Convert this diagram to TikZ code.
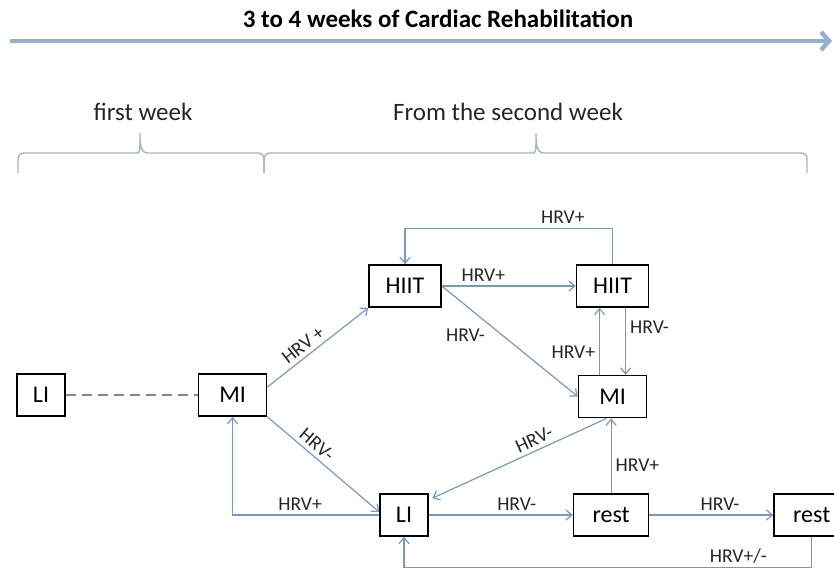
\documentclass[tikz,border=0pt]{standalone}
\usepackage{fontspec}
\setmainfont{Carlito}
\usetikzlibrary{positioning,arrows.meta}
\definecolor{linkblue}{RGB}{122,152,190}
\definecolor{barblue}{RGB}{148,176,208}
\definecolor{braceblue}{RGB}{160,180,202}
\definecolor{dashgray}{RGB}{120,136,160}
\tikzset{box/.style={draw,thick,minimum height=21pt,inner sep=2pt,font=\fontsize{12}{14}\selectfont},
  link/.style={draw=linkblue,line width=0.6pt,-{Straight Barb[length=3pt,width=5pt]}},
  lab/.style={font=\fontsize{9.8}{11}\selectfont,text=black!85,inner sep=2pt},
  brace/.style={draw=braceblue,line width=0.7pt},
  week/.style={font=\fontsize{12.5}{15}\selectfont,text=black!85}}

\begin{document}
\begin{tikzpicture}[x=0.5pt,y=-0.5pt]
\useasboundingbox (0,0) rectangle (834,571);
\clip (0,0) rectangle (834,571);

% time line
\node[font=\fontsize{12.5}{15}\selectfont\bfseries] (title) at (438,19) {3 to 4 weeks of Cardiac Rehabilitation};
\coordinate (tstart) at (10,41);
\coordinate (tend) at (832,41);
\draw[barblue,line width=2.2pt,-{Straight Barb[length=4pt,width=9pt]}] (tstart) -- (tend);

% weeks
\node[week] (week1) at (143,112) {first week};
\node[week] (week2) at (508,112) {From the second week};
\draw[brace] (18,173) [rounded corners=3pt] -- (18,153) -- (132,153) [sharp corners] to[out=0,in=-90] (140,133)
    to[out=-90,in=180] (148,153) [rounded corners=3pt] -- (264,153) -- (264,173);
\draw[brace] (264,173) [rounded corners=3pt] -- (264,153) -- (528,153) [sharp corners] to[out=0,in=-90] (536,133)
    to[out=-90,in=180] (544,153) [rounded corners=3pt] -- (807,153) -- (807,173);

\node[box,
    minimum width=24pt
] (li1) at (41,395) {LI};

\node[box,
    right=66pt of li1,
    minimum width=34pt
] (mi1) {MI};

\node[box,
    minimum width=36pt
] (hiit1) at (405,286) {HIIT};

\node[box,
    right=67pt of hiit1,
    minimum width=36pt
] (hiit2) {HIIT};

\node[box,
    below=33.5pt of hiit2,
    minimum width=34pt
] (mi2) {MI};

\node[box,
    minimum width=24pt
] (li2) at (404,515) {LI};

\node[box,
    right=72pt of li2,
    minimum width=37.5pt
] (rest1) {rest};

\node[box,
    right=62pt of rest1,
    minimum width=37.5pt
] (rest2) {rest};

% Arrows
\draw[dashgray,line width=1pt,dash pattern=on 5pt off 3pt] (li1) -- (mi1);
\draw[link] ([yshift=4pt]mi1.east) -- node[lab,sloped,above,pos=0.42] {HRV +} (hiit1.south west);
\draw[link] (mi1.south east) -- node[lab,sloped,above,pos=0.38] {HRV-} ([yshift=1.5pt]li2.west);
\draw[link] (li2.west) -| node[lab,above,pos=0.27] {HRV+} (mi1.south);
\draw[link] (hiit1.east) -- node[lab,above,pos=0.31] {HRV+} (hiit1.east -| hiit2.west);
\draw[link] (hiit1.east) -- node[lab,below left,pos=0.35] {HRV-} (mi2.west);
\draw[link] (hiit2.north) -- ++(0,-36) -| node[lab,above,pos=0.12] {HRV+} (hiit1.north);
\draw[link] ([xshift=-6.5pt]mi2.north) -- node[lab,left,pos=0.33] {HRV+} ([xshift=-6.5pt]mi2.north |- hiit2.south);
\draw[link] ([xshift=6.5pt]mi2.north |- hiit2.south) -- node[lab,right,pos=0.29] {HRV-} ([xshift=6.5pt]mi2.north);
\draw[link] ([xshift=-3pt]mi2.south) -- node[lab,sloped,above,pos=0.39] {HRV-} ([xshift=1.75pt,yshift=-2.5pt]li2.north east);
\draw[link] (rest1.north) -- node[lab,right,pos=0.37] {HRV+} (rest1.north |- mi2.south);
\draw[link] (li2) -- node[lab,above,pos=0.61] {HRV-} (rest1);
\draw[link] (rest1) -- node[lab,above,pos=0.57] {HRV-} (rest2);
\draw[link] (rest2.south) -- ++(0,31) -| node[lab,above,pos=0.09] {HRV+/-} (li2.south);
\end{tikzpicture}
\end{document}
